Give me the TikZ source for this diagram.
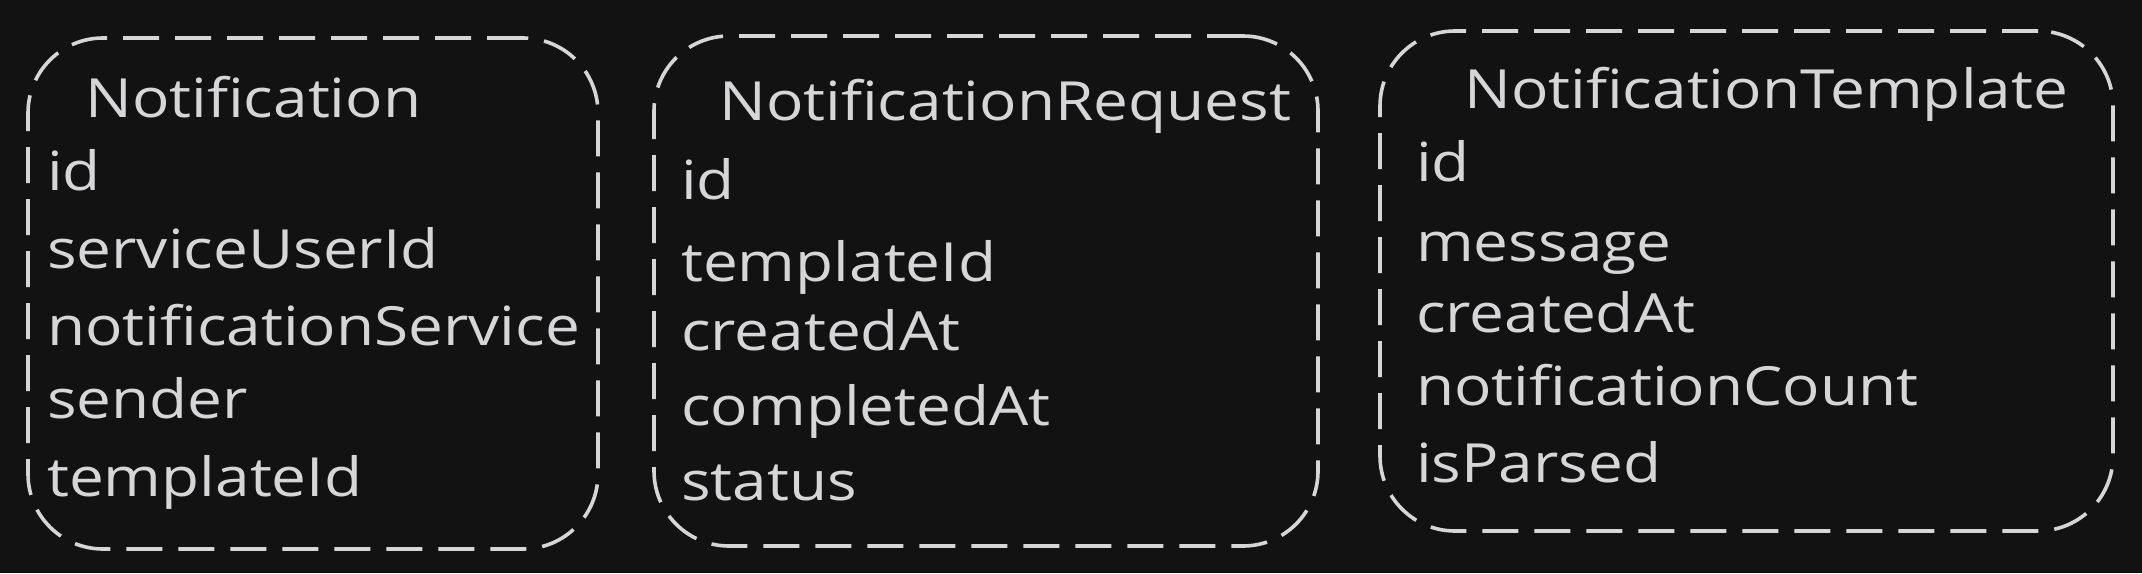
\documentclass[tikz,border=0pt]{standalone}
\usepackage{fontspec}
\setmainfont{Open Sans}[FakeStretch=1.15]
\definecolor{bg}{HTML}{121212}
\definecolor{fg}{HTML}{D6D6D8}
\tikzset{
  entbox/.style={draw=fg, line width=3.6pt, dash pattern=on 36pt off 16pt, rounded corners=75pt, inner sep=0pt},
  ttl/.style={anchor=base west, inner sep=0pt, text=fg, font=\fontsize{54}{64}\selectfont},
  fld/.style={anchor=base west, inner sep=0pt, text=fg, font=\fontsize{54}{64}\selectfont}
}
\begin{document}
\begin{tikzpicture}[x=1pt,y=-1pt]
\fill[bg] (0,0) rectangle (2142,573);
\useasboundingbox (0,0) rectangle (2142,573);
% Box 1
\node[entbox, minimum width=570pt, minimum height=511pt] (b1) at (313,293.5) {};
\node[ttl] (t1) at (85,117) {Notification};
\node[fld] (f11) at (47,190) {id};
\node[fld] (f12) at (47,268) {serviceUserId};
\node[fld] (f13) at (47,345) {notificationService};
\node[fld] (f14) at (47,418) {sender};
\node[fld] (f15) at (47,496) {templateId};
% Box 2
\node[entbox, minimum width=664pt, minimum height=510pt] (b2) at (986,291) {};
\node[ttl] (t2) at (719,120) {NotificationRequest};
\node[fld] (f21) at (681,199) {id};
\node[fld] (f22) at (681,281) {templateId};
\node[fld] (f23) at (681,350) {createdAt};
\node[fld] (f24) at (681,425) {completedAt};
\node[fld] (f25) at (681,500) {status};
% Box 3
\node[entbox, minimum width=733pt, minimum height=500pt] (b3) at (1746.5,281) {};
\node[ttl] (t3) at (1464,108) {NotificationTemplate};
\node[fld] (f31) at (1416,181) {id};
\node[fld] (f32) at (1416,261) {message};
\node[fld] (f33) at (1416,332) {createdAt};
\node[fld] (f34) at (1416,405) {notificationCount};
\node[fld] (f35) at (1416,482) {isParsed};
\end{tikzpicture}
\end{document}
